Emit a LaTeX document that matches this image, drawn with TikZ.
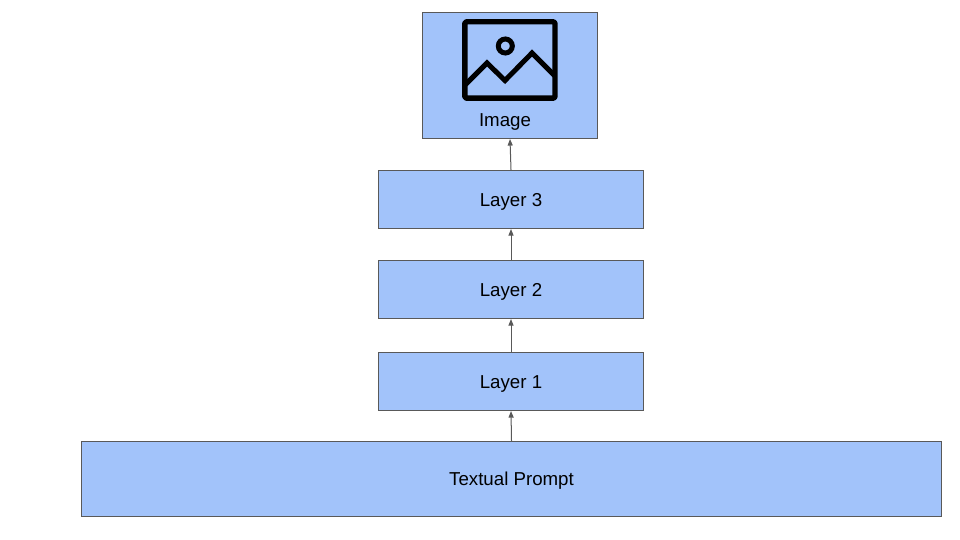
\documentclass[tikz,border=0pt]{standalone}
\usepackage{fontspec}
\setmainfont{Liberation Sans}
\usetikzlibrary{arrows.meta}
\definecolor{boxfill}{HTML}{A2C3FA}
\definecolor{boxline}{HTML}{595959}
\newcommand{\lbl}[1]{\raisebox{-6.3pt}[0pt][0pt]{#1}}
\newcommand{\lbllow}[1]{\raisebox{-7.1pt}[0pt][0pt]{#1}}
\begin{document}
\begin{tikzpicture}[x=1pt,y=-1pt,
  boxstyle/.style={draw=boxline,line width=1.1pt,fill=boxfill,inner sep=0pt,font=\fontsize{18.7}{22}\selectfont,text=black},
  conn/.style={draw=boxline,line width=1pt,-{Triangle[length=6.5pt,width=5pt]}}]
\useasboundingbox (0,0) rectangle (960,540);
\fill[white] (0,0) rectangle (960,540);
\node[boxstyle,minimum width=174.6pt,minimum height=126pt] (img) at (510,75.5) {};
\node[anchor=center,font=\fontsize{18.7}{22}\selectfont] (imgl) at (505,120) {\lbl{Image}};
\node[boxstyle,minimum width=265pt,minimum height=58pt] (l3) at (511,199.5) {\lbllow{Layer 3}};
\node[boxstyle,minimum width=265pt,minimum height=58pt] (l2) at (511,289.5) {\lbllow{Layer 2}};
\node[boxstyle,minimum width=265pt,minimum height=58pt] (l1) at (511,381.5) {\lbllow{Layer 1}};
\node[boxstyle,minimum width=860pt,minimum height=75pt] (tp) at (511.5,479) {\lbl{Textual Prompt}};
\draw[conn] (l3.north) -- (img.south);
\draw[conn] (l2.north) -- (l3.south);
\draw[conn] (l1.north) -- (l2.south);
\draw[conn] (tp.north) -- (l1.south);
\draw[line width=5.4pt,rounded corners=1.5pt,line join=round] (464.8,21.8) rectangle (555,98.2);
\draw[line width=5pt,line join=miter] (465.5,84.5) -- (487,63) -- (505,80.5) -- (532,53) -- (554.5,75.5);
\draw[line width=5pt] (505.3,46) circle (7pt);
\end{tikzpicture}
\end{document}
